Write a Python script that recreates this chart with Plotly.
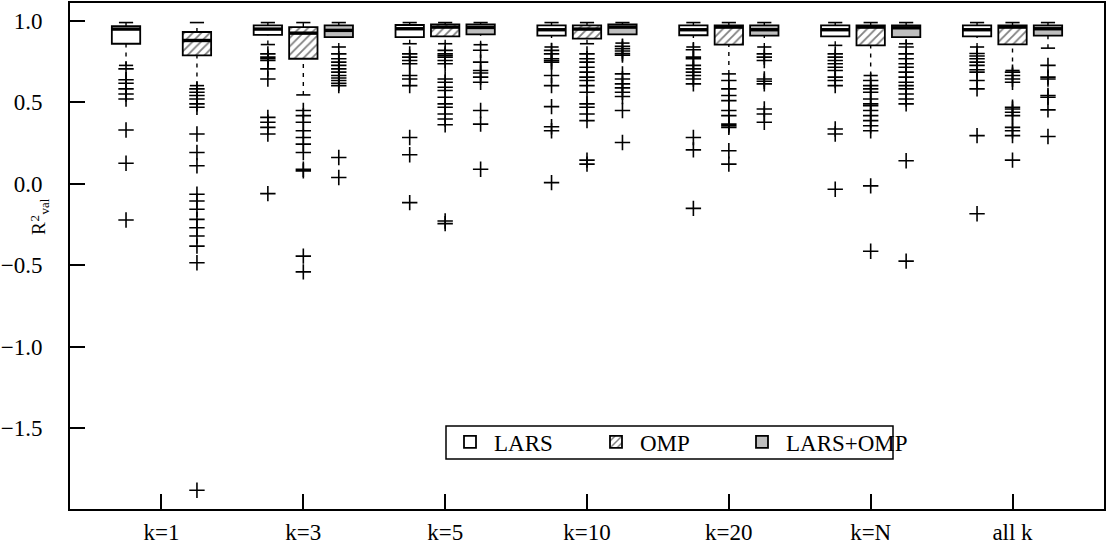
import plotly.graph_objects as go

# ---------------- data ----------------
groups = ["k=1", "k=3", "k=5", "k=10", "k=20", "k=N", "all k"]
methods = ["LARS", "OMP", "LARS+OMP"]

# LARS box statistics per group
lars_lo = [0.727, 0.855, 0.86, 0.84, 0.84, 0.85, 0.84]
lars_q1 = [0.86, 0.915, 0.90, 0.91, 0.912, 0.905, 0.905]
lars_med = [0.95, 0.95, 0.952, 0.946, 0.946, 0.946, 0.946]
lars_q3 = [0.968, 0.973, 0.975, 0.973, 0.973, 0.973, 0.973]
lars_hi = [0.99, 0.99, 0.99, 0.99, 0.99, 0.99, 0.99]
lars_out = [
    [0.706, 0.639, 0.618, 0.583, 0.552, 0.521, 0.331, 0.127, -0.222],
    [0.798, 0.778, 0.768, 0.757, 0.706, 0.644, 0.408, 0.378, 0.347, 0.306, -0.06],
    [0.798, 0.778, 0.757, 0.737, 0.665, 0.644, 0.603, 0.285, 0.179, -0.115],
    [0.819, 0.798, 0.768, 0.757, 0.747, 0.665, 0.603, 0.474, 0.351, 0.326, 0.008],
    [0.823, 0.778, 0.768, 0.727, 0.706, 0.686, 0.665, 0.644, 0.614, 0.285, 0.209, -0.15],
    [0.798, 0.778, 0.757, 0.737, 0.716, 0.696, 0.655, 0.634, 0.603, 0.337, 0.306, -0.033],
    [0.80, 0.785, 0.768, 0.747, 0.727, 0.70, 0.686, 0.634, 0.583, 0.296, -0.183],
]

# OMP box statistics per group
omp_lo = [0.603, 0.546, 0.86, 0.86, 0.675, 0.665, 0.696]
omp_q1 = [0.788, 0.768, 0.905, 0.891, 0.854, 0.85, 0.856]
omp_med = [0.88, 0.925, 0.962, 0.95, 0.962, 0.962, 0.962]
omp_q3 = [0.932, 0.962, 0.979, 0.973, 0.973, 0.973, 0.973]
omp_hi = [0.99, 0.99, 0.99, 0.99, 0.99, 0.99, 0.99]
omp_out = [
    [0.583, 0.562, 0.542, 0.521, 0.491, 0.47, 0.306, 0.193, 0.111, -0.064, -0.105,
     -0.156, -0.218, -0.269, -0.32, -0.382, -0.484, -1.88],
    [0.45, 0.419, 0.378, 0.326, 0.285, 0.244, 0.193, 0.09, 0.08, -0.443, -0.54],
    [0.819, 0.798, 0.788, 0.778, 0.757, 0.737, 0.644, 0.624, 0.593, 0.573, 0.532,
     0.491, 0.47, 0.429, 0.398, 0.363, -0.228, -0.244],
    [0.798, 0.768, 0.747, 0.716, 0.686, 0.655, 0.634, 0.603, 0.562, 0.491, 0.47,
     0.429, 0.388, 0.146, 0.121],
    [0.634, 0.583, 0.542, 0.511, 0.45, 0.419, 0.367, 0.357, 0.347, 0.203, 0.121],
    [0.634, 0.603, 0.583, 0.562, 0.521, 0.491, 0.48, 0.45, 0.419, 0.388, 0.357,
     0.326, -0.012, -0.413],
    [0.686, 0.665, 0.644, 0.624, 0.47, 0.46, 0.44, 0.419, 0.347, 0.326, 0.296, 0.146],
]

# LARS+OMP box statistics per group (none for k=1)
lo_lo = [None, 0.84, 0.854, 0.864, 0.84, 0.86, 0.833]
lo_q1 = [None, 0.90, 0.917, 0.917, 0.91, 0.90, 0.91]
lo_med = [None, 0.942, 0.96, 0.962, 0.946, 0.958, 0.952]
lo_q3 = [None, 0.973, 0.979, 0.979, 0.973, 0.973, 0.973]
lo_hi = [None, 0.99, 0.99, 0.99, 0.99, 0.99, 0.99]
lo_out = [
    [],
    [0.798, 0.768, 0.747, 0.727, 0.706, 0.686, 0.665, 0.65, 0.634, 0.618, 0.603, 0.162, 0.039],
    [0.82, 0.747, 0.696, 0.68, 0.655, 0.624, 0.45, 0.367, 0.09],
    [0.845, 0.83, 0.815, 0.80, 0.79, 0.675, 0.644, 0.614, 0.589, 0.562, 0.536, 0.45, 0.254],
    [0.798, 0.778, 0.757, 0.644, 0.63, 0.614, 0.46, 0.429, 0.378],
    [0.84, 0.798, 0.768, 0.737, 0.716, 0.686, 0.655, 0.624, 0.603, 0.583, 0.552,
     0.521, 0.491, 0.142, -0.474],
    [0.727, 0.655, 0.644, 0.542, 0.532, 0.454, 0.291],
]

yticks = [1.0, 0.5, 0.0, -0.5, -1.0, -1.5]

# ---------------- layout helpers ----------------
FONT = "Liberation Serif, Times New Roman, serif"
FS = 23
BOXW = 0.8
CAPW = 0.4
YMIN, YMAX = -1.995, 1.11


def positions(method_index):
    pos = []
    for g in range(len(groups)):
        center = 4 * (g + 1)
        if g == 0:
            # k=1: only LARS (left) and OMP (right)
            off = {0: -1, 1: 1, 2: None}[method_index]
        else:
            off = method_index - 1
        pos.append(None if off is None else center + off)
    return pos


series = [
    ("LARS", lars_lo, lars_q1, lars_med, lars_q3, lars_hi, lars_out,
     "white", None),
    ("OMP", omp_lo, omp_q1, omp_med, omp_q3, omp_hi, omp_out,
     "white", "/"),
    ("LARS+OMP", lo_lo, lo_q1, lo_med, lo_q3, lo_hi, lo_out,
     "#BEBEBE", None),
]

fig = go.Figure()

# whiskers (dashed) first
for mi, (name, lo, q1, med, q3, hi, out, fill, pat) in enumerate(series):
    xs, ys = [], []
    for x, a, b, c, d in zip(positions(mi), lo, q1, q3, hi):
        if x is None or a is None:
            continue
        xs += [x, x, None, x, x, None]
        ys += [a, b, None, c, d, None]
    fig.add_trace(go.Scatter(x=xs, y=ys, mode="lines", showlegend=False,
                             hoverinfo="skip",
                             line=dict(color="black", width=1.4, dash="4px,5px")))
    # caps
    xs, ys = [], []
    for x, a, d in zip(positions(mi), lo, hi):
        if x is None or a is None:
            continue
        xs += [x - CAPW / 2, x + CAPW / 2, None, x - CAPW / 2, x + CAPW / 2, None]
        ys += [a, a, None, d, d, None]
    fig.add_trace(go.Scatter(x=xs, y=ys, mode="lines", showlegend=False,
                             hoverinfo="skip",
                             line=dict(color="black", width=1.6)))

# boxes as bars
for mi, (name, lo, q1, med, q3, hi, out, fill, pat) in enumerate(series):
    xs, bases, hs = [], [], []
    for x, b, c in zip(positions(mi), q1, q3):
        if x is None or b is None:
            continue
        xs.append(x)
        bases.append(b)
        hs.append(c - b)
    marker = dict(color=fill, line=dict(color="black", width=1.8))
    if pat:
        marker["pattern"] = dict(shape=pat, fgcolor="black", bgcolor="white",
                                 size=6, solidity=0.3)
    fig.add_trace(go.Bar(x=xs, y=hs, base=bases, width=BOXW, name=name,
                         marker=marker, showlegend=True))

# spacer legend entry so the last label is not clipped
fig.add_trace(go.Scatter(x=[None], y=[None], mode="markers", name=" ",
                         marker=dict(size=1, color="rgba(0,0,0,0)",
                                     line=dict(width=0)),
                         showlegend=True, hoverinfo="skip"))

# medians
for mi, (name, lo, q1, med, q3, hi, out, fill, pat) in enumerate(series):
    xs, ys = [], []
    for x, m in zip(positions(mi), med):
        if x is None or m is None:
            continue
        xs += [x - BOXW / 2, x + BOXW / 2, None]
        ys += [m, m, None]
    fig.add_trace(go.Scatter(x=xs, y=ys, mode="lines", showlegend=False,
                             hoverinfo="skip",
                             line=dict(color="black", width=3.4)))

# outliers
for mi, (name, lo, q1, med, q3, hi, out, fill, pat) in enumerate(series):
    xs, ys = [], []
    for x, vals in zip(positions(mi), out):
        if x is None:
            continue
        xs += [x] * len(vals)
        ys += vals
    fig.add_trace(go.Scatter(x=xs, y=ys, mode="markers", showlegend=False,
                             marker=dict(symbol="cross-thin", size=11,
                                         line=dict(color="black", width=1.6))))

L, R, T, B = 70, 4, 3, 35
W, H = 1108, 544
pw = W - L - R
ph = H - T - B

fig.update_layout(
    width=W, height=H,
    margin=dict(l=L, r=R, t=T, b=B, autoexpand=False),
    paper_bgcolor="white", plot_bgcolor="white",
    barmode="overlay",
    font=dict(family=FONT, size=FS, color="black"),
    legend=dict(orientation="h", x=(446 - L) / pw, y=(509 - 442) / ph,
                xanchor="left", yanchor="middle",
                bgcolor="rgba(0,0,0,0)", borderwidth=0,
                itemwidth=38,
                entrywidth=93, entrywidthmode="pixels",
                font=dict(family=FONT, size=FS)),
    showlegend=True,
)

fig.update_xaxes(range=[1.42, 30.58], tickmode="array",
                 tickvals=[4 * (g + 1) for g in range(len(groups))],
                 ticktext=groups, ticks="inside", ticklen=15, tickwidth=1.5,
                 tickcolor="black", showline=True, linecolor="black",
                 linewidth=2, mirror=True, showgrid=False, zeroline=False,
                 ticklabelstandoff=1, automargin=False, fixedrange=True)
fig.update_yaxes(range=[YMIN, YMAX], tickmode="array", tickvals=yticks,
                 ticktext=[f"{v:.1f}".replace("-", "\u2212") for v in yticks],
                 ticks="inside", ticklen=15, tickwidth=1.5, tickcolor="black",
                 showline=True, linecolor="black", linewidth=2, mirror=True,
                 showgrid=False, zeroline=False, ticklabelstandoff=21,
                 automargin=False, fixedrange=True)

# legend frame (R draws it slightly narrower than the text)
fig.add_shape(type="rect", xref="paper", yref="paper",
              x0=(446 - L) / pw, x1=(893 - L) / pw,
              y0=(509 - 459) / ph, y1=(509 - 426) / ph,
              line=dict(color="black", width=1.5), fillcolor="rgba(0,0,0,0)")


# y-axis title: R with stacked superscript 2 and subscript val
def ypix(p):
    return YMAX - (p - T) / ph * (YMAX - YMIN)


fig.add_annotation(text="R", xref="paper", yref="y", x=0, y=ypix(229),
                   xshift=38 - L, xanchor="center", yanchor="middle",
                   textangle=-90, showarrow=False,
                   font=dict(family=FONT, size=19))
fig.add_annotation(text="2", xref="paper", yref="y", x=0, y=ypix(218),
                   xshift=33.5 - L, xanchor="center", yanchor="middle",
                   textangle=-90, showarrow=False,
                   font=dict(family=FONT, size=13))
fig.add_annotation(text="val", xref="paper", yref="y", x=0, y=ypix(207),
                   xshift=43.5 - L, xanchor="center", yanchor="middle",
                   textangle=-90, showarrow=False,
                   font=dict(family=FONT, size=13))

fig.write_html("out.html",
               config={"displayModeBar": False},
               post_script="document.body.style.margin='0';"
                           "document.body.style.overflow='hidden';")
